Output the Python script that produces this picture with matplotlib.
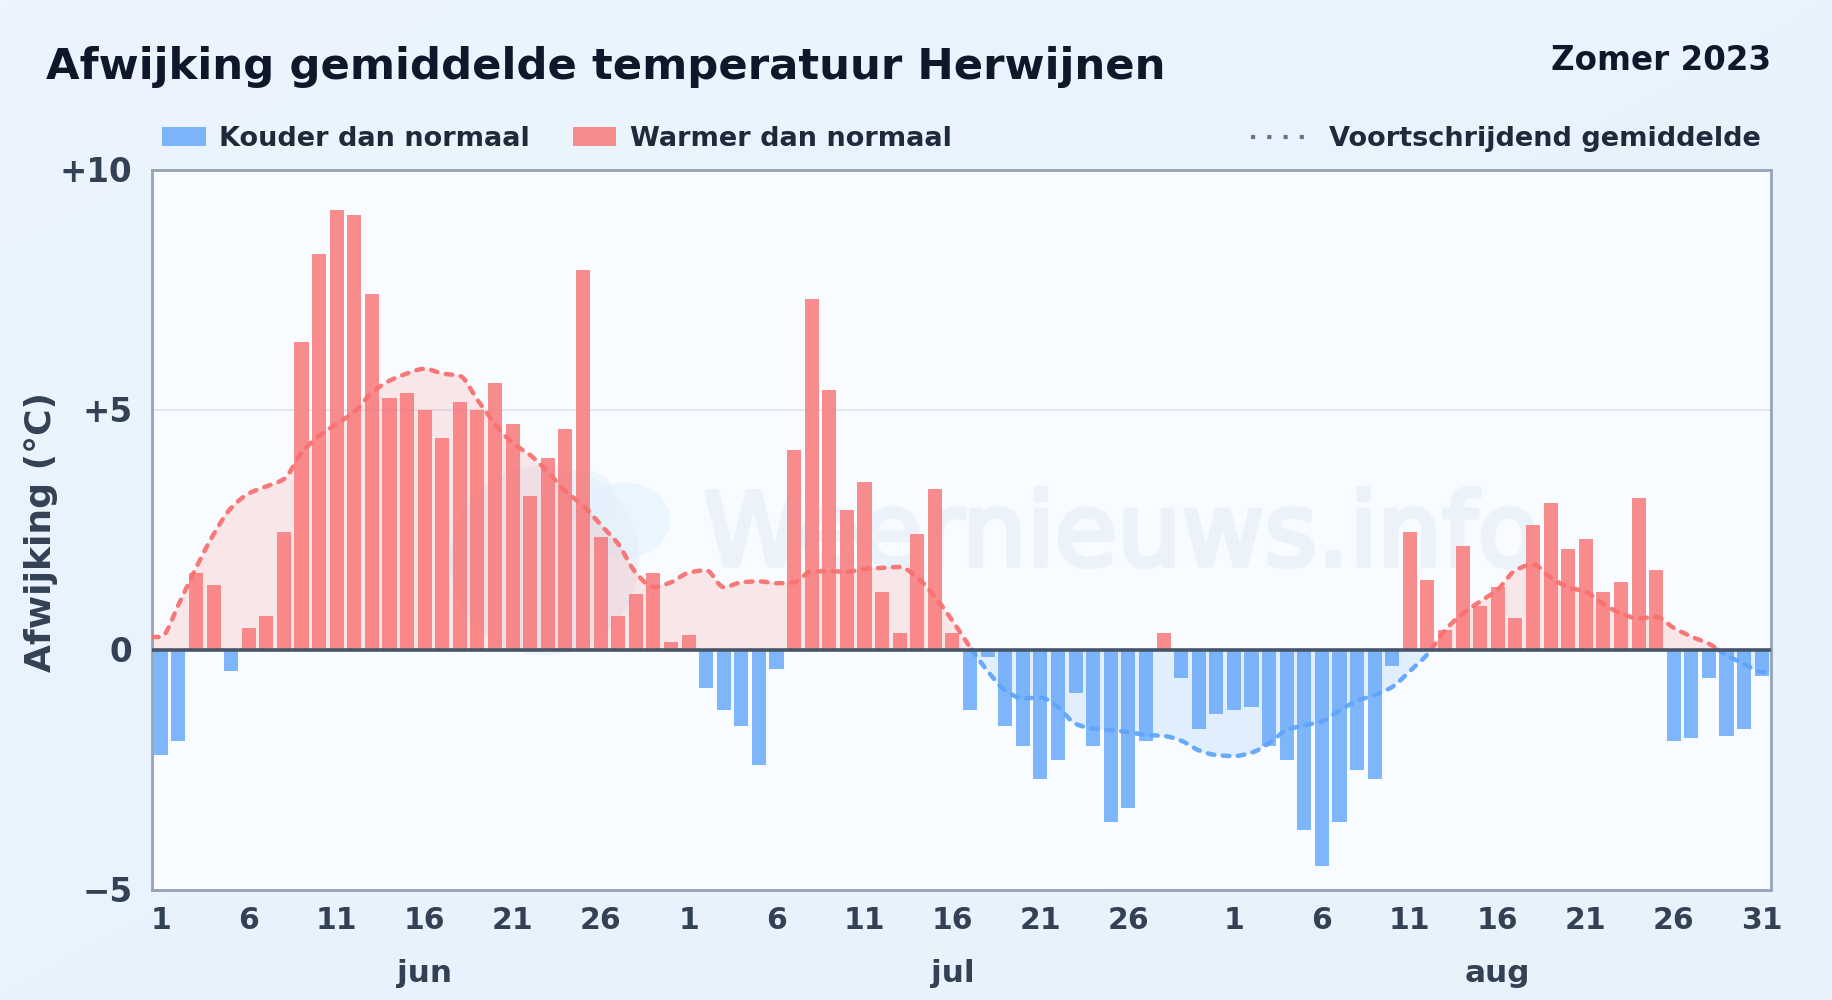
import numpy as np
import matplotlib
matplotlib.use("Agg")
import matplotlib.pyplot as plt
import matplotlib.patheffects as pe
from matplotlib.colors import LinearSegmentedColormap
from matplotlib.patches import Rectangle, Ellipse
from matplotlib.lines import Line2D

title = "Afwijking gemiddelde temperatuur Herwijnen"
period = "Zomer 2023"
ylabel = "Afwijking (°C)"
legend_cold = "Kouder dan normaal"
legend_warm = "Warmer dan normaal"
legend_avg = "Voortschrijdend gemiddelde"
watermark = "Weernieuws.info"

months = ["jun", "jul", "aug"]
month_days = [30, 31, 31]

dev_jun = [-2.2, -1.9, 1.6, 1.35, -0.45, 0.45, 0.7, 2.45, 6.4, 8.25, 9.15, 9.05, 7.4, 5.25, 5.35,
           5.0, 4.4, 5.15, 5.0, 5.55, 4.7, 3.2, 4.0, 4.6, 7.9, 2.35, 0.7, 1.15, 1.6, 0.15]
dev_jul = [0.3, -0.8, -1.25, -1.6, -2.4, -0.4, 4.15, 7.3, 5.4, 2.9, 3.5, 1.2, 0.35, 2.4, 3.35,
           0.35, -1.25, -0.15, -1.6, -2.0, -2.7, -2.3, -0.9, -2.0, -3.6, -3.3, -1.9, 0.35, -0.6, -1.65, -1.35]
dev_aug = [-1.25, -1.2, -2.0, -2.3, -3.75, -4.5, -3.6, -2.5, -2.7, -0.35, 2.45, 1.45, 0.4, 2.15, 0.9,
           1.3, 0.65, 2.6, 3.05, 2.1, 2.3, 1.2, 1.4, 3.15, 1.65, -1.9, -1.85, -0.6, -1.8, -1.65, -0.55]

avg_jun = [0.26, 0.93, 1.7, 2.4, 2.95, 3.25, 3.4, 3.55, 4.1, 4.45, 4.7, 4.95, 5.35, 5.6, 5.75,
           5.85, 5.75, 5.7, 5.2, 4.7, 4.3, 4.05, 3.7, 3.3, 3.0, 2.6, 2.2, 1.6, 1.3, 1.4]
avg_jul = [1.6, 1.65, 1.3, 1.4, 1.42, 1.38, 1.4, 1.63, 1.63, 1.62, 1.68, 1.7, 1.72, 1.5, 1.1,
           0.6, 0.05, -0.45, -0.85, -1.02, -1.0, -1.2, -1.55, -1.65, -1.68, -1.72, -1.78, -1.8, -1.9, -2.1, -2.2]
avg_aug = [-2.22, -2.15, -1.95, -1.68, -1.58, -1.5, -1.27, -1.07, -0.95, -0.78, -0.45, -0.1, 0.4, 0.75, 1.0,
           1.25, 1.65, 1.77, 1.5, 1.3, 1.2, 0.95, 0.75, 0.65, 0.68, 0.45, 0.27, 0.12, -0.12, -0.3, -0.47]

yticks = [-5, 0, 5, 10]
ytick_labels = ["−5", "0", "+5", "+10"]
xtick_days = [[1, 6, 11, 16, 21, 26], [1, 6, 11, 16, 21, 26], [1, 6, 11, 16, 21, 26, 31]]

PLOT_BG = "#f8fbff"
RED = "#f87171"
BLUE = "#60a5fa"
DARK = "#0f172a"
TEXT = "#334155"
LEG = "#1e293b"

W, H = 1832, 1000
plt.rcParams["font.family"] = ["DejaVu Sans"]
plt.rcParams["font.weight"] = "bold"
fig = plt.figure(figsize=(W / 100, H / 100), dpi=100, facecolor="#e9f3fc")

def fx(px): return px / W
def fy(py): return 1 - py / H

# page background: a faint diagonal gradient
bg_ax = fig.add_axes([0, 0, 1, 1], zorder=-1)
bg_ax.axis("off")
gx, gy = np.meshgrid(np.linspace(0, 1, 200), np.linspace(0, 1, 120))
bg_cmap = LinearSegmentedColormap.from_list("page", ["#ecf5fd", "#e8f3fd", "#e9f2fb"])
bg_ax.imshow((gx + gy) / 2, cmap=bg_cmap, aspect="auto", vmin=0, vmax=1, interpolation="bilinear")

L, R, T, B = 152, 1770.5, 169.5, 889.5
ax = fig.add_axes([fx(L), fy(B), fx(R - L), (B - T) / H], facecolor=PLOT_BG)

dev = np.array(dev_jun + dev_jul + dev_aug)
avg = np.array(avg_jun + avg_jul + avg_aug)
n = len(dev)
xc = np.arange(n) + 0.5
ax.set_xlim(0, n)
ax.set_ylim(-5, 10)

# watermark
ax.text(0.599, 0.489, watermark, transform=ax.transAxes, ha="center", va="center", fontsize=73,
        fontweight="normal", color="#ebf2fa", zorder=0.5,
        path_effects=[pe.withStroke(linewidth=3.5, foreground="#ebf2fa")])
for (cx, cy, w, h, col, a) in [(0.2426, 0.4576, 0.117, 0.264, "#dde6f0", 0.35),
                               (0.292, 0.513, 0.056, 0.104, "#e3f1fe", 0.6),
                               (0.268, 0.545, 0.035, 0.075, "#e3f1fe", 0.6)]:
    ax.add_patch(Ellipse((cx, cy), w, h, transform=ax.transAxes, fc=col, ec="none", alpha=a, zorder=0.5))

ax.yaxis.grid(True, color="#e2e8f0", lw=1.5, zorder=1)
ax.set_axisbelow(True)

# smooth, monotone curve through the daily averages, flat to the frame
xk = np.concatenate([[0], xc, [n]])
yk = np.concatenate([[avg[0]], avg, [avg[-1]]])
def monotone(xk, yk, xs):
    h = np.diff(xk)
    d = np.diff(yk) / h
    m = np.zeros_like(yk)
    for i in range(1, len(yk) - 1):
        if d[i - 1] * d[i] > 0:
            m[i] = 2 * d[i - 1] * d[i] / (d[i - 1] + d[i])
    idx = np.clip(np.searchsorted(xk, xs, side="right") - 1, 0, len(h) - 1)
    t = (xs - xk[idx]) / h[idx]
    return ((2*t**3 - 3*t**2 + 1) * yk[idx] + (t**3 - 2*t**2 + t) * h[idx] * m[idx]
            + (-2*t**3 + 3*t**2) * yk[idx + 1] + (t**3 - t**2) * h[idx] * m[idx + 1])
xs = np.linspace(0, n, 3000)
ys = monotone(xk, yk, xs)

ax.fill_between(xs, 0, ys, where=ys >= 0, color=RED, alpha=0.15, lw=0, zorder=1.5)
ax.fill_between(xs, 0, ys, where=ys <= 0, color=BLUE, alpha=0.15, lw=0, zorder=1.5)

ax.bar(xc, dev, width=0.8, color=[RED if v >= 0 else BLUE for v in dev], alpha=0.8, lw=0, zorder=2)

dash = (0, (1.5, 1.9))
ax.plot(xs, np.where(ys >= 0, ys, np.nan), color=RED, lw=3.2, ls=dash, alpha=0.95, zorder=3, dash_capstyle="round")
ax.plot(xs, np.where(ys <= 0, ys, np.nan), color=BLUE, lw=3.2, ls=dash, alpha=0.95, zorder=3, dash_capstyle="round")

ax.axhline(0, color="#475569", lw=2.6, zorder=4)

for s in ax.spines.values():
    s.set_color("#94a3b8")
    s.set_linewidth(2)

ax.set_yticks(yticks)
ax.set_yticklabels(ytick_labels, fontsize=23.5, fontweight="bold", color=TEXT)

ticks, labels = [], []
offset = 0
centres = []
for days, nd in zip(xtick_days, month_days):
    for d in days:
        ticks.append(offset + d - 0.5)
        labels.append(str(d))
    centres.append(offset + 15.5)
    offset += nd
ax.set_xticks(ticks)
ax.set_xticklabels(labels, fontsize=21.5, fontweight="bold", color=TEXT)
ax.tick_params(axis="x", length=0, pad=12)
ax.tick_params(axis="y", length=0, pad=14)
for c, m in zip(centres, months):
    ax.annotate(m, xy=(c, 0), xycoords=("data", "axes fraction"), xytext=(0, -84 * 0.72),
                textcoords="offset points", ha="center", va="center", fontsize=22.4, fontweight="bold", color=TEXT)

fig.text(fx(46), fy(67), title, fontsize=31.2, fontweight="bold", color=DARK, ha="left", va="center")
fig.text(fx(1771), fy(61), period, fontsize=23.45, fontweight="bold", color=DARK, ha="right", va="center")
fig.text(fx(41), fy(532), ylabel, fontsize=26, fontweight="bold", color=TEXT, rotation=90, ha="center", va="center")

fig.add_artist(Rectangle((fx(162), fy(146)), fx(44), 19 / H, transform=fig.transFigure, fc=BLUE, alpha=0.8, lw=0))
fig.add_artist(Rectangle((fx(573), fy(146)), fx(43), 19 / H, transform=fig.transFigure, fc=RED, alpha=0.8, lw=0))
fig.add_artist(Line2D([fx(1251), fx(1310)], [fy(137), fy(137)], transform=fig.transFigure, color="#64748b",
                      lw=3, ls=(0, (1, 2.9))))
fig.text(fx(219), fy(138.5), legend_cold, fontsize=19.55, color=LEG, ha="left", va="center")
fig.text(fx(630), fy(138.5), legend_warm, fontsize=19.55, color=LEG, ha="left", va="center")
fig.text(fx(1761), fy(138.5), legend_avg, fontsize=19.5, color=LEG, ha="right", va="center")

fig.savefig("out.png", dpi=100, facecolor=fig.get_facecolor())
